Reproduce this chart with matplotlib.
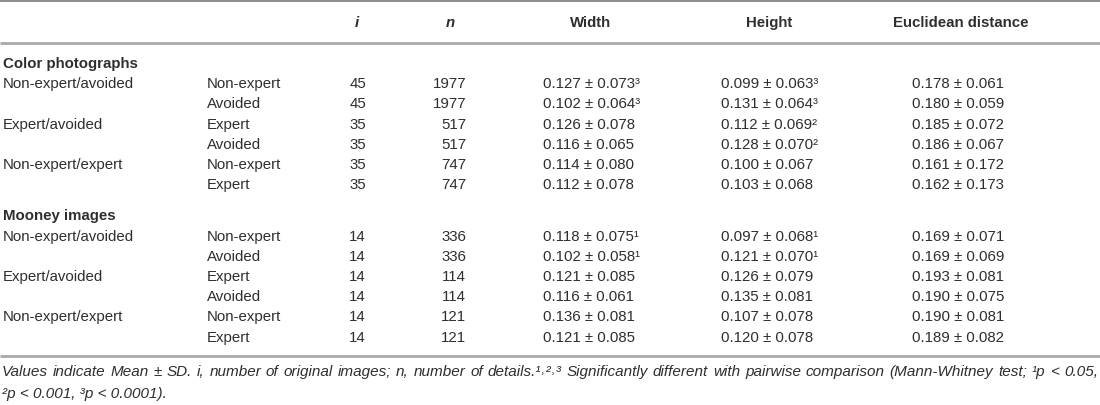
import matplotlib
matplotlib.use("Agg")
import matplotlib.pyplot as plt

# ---------------- data ----------------
col_headers = ["i", "n", "Width", "Height", "Euclidean distance"]
sections = ["Color photographs", "Mooney images"]
comparisons = ["Non-expert/avoided", "Expert/avoided", "Non-expert/expert"]
groups = [["Non-expert", "Avoided"], ["Expert", "Avoided"], ["Non-expert", "Expert"]]

i_vals = [[45, 45, 35, 35, 35, 35],
          [14, 14, 14, 14, 14, 14]]
n_vals = [[1977, 1977, 517, 517, 747, 747],
          [336, 336, 114, 114, 121, 121]]

width_mean = [[0.127, 0.102, 0.126, 0.116, 0.114, 0.112],
              [0.118, 0.102, 0.121, 0.116, 0.136, 0.121]]
width_sd = [[0.073, 0.064, 0.078, 0.065, 0.080, 0.078],
            [0.075, 0.058, 0.085, 0.061, 0.081, 0.085]]
width_sig = [["3", "3", "", "", "", ""],
             ["1", "1", "", "", "", ""]]

height_mean = [[0.099, 0.131, 0.112, 0.128, 0.100, 0.103],
               [0.097, 0.121, 0.126, 0.135, 0.107, 0.120]]
height_sd = [[0.063, 0.064, 0.069, 0.070, 0.067, 0.068],
             [0.068, 0.070, 0.079, 0.081, 0.078, 0.078]]
height_sig = [["3", "3", "2", "2", "", ""],
              ["1", "1", "", "", "", ""]]

eucl_mean = [[0.178, 0.180, 0.185, 0.186, 0.161, 0.162],
             [0.169, 0.169, 0.193, 0.190, 0.190, 0.189]]
eucl_sd = [[0.061, 0.059, 0.072, 0.067, 0.172, 0.173],
           [0.071, 0.069, 0.081, 0.075, 0.081, 0.082]]
eucl_sig = [["", "", "", "", "", ""],
            ["", "", "", "", "", ""]]

footnote_line1 = ("Values indicate Mean ± SD. i, number of original images; n, number of "
                  "details.¹˒²˒³ Significantly different with pairwise comparison "
                  "(Mann-Whitney test; ¹p < 0.05,")
footnote_line2 = "²p < 0.001, ³p < 0.0001)."

# ---------------- layout ----------------
W, H = 1100, 406
fig = plt.figure(figsize=(W / 100, H / 100), dpi=100)
ax = fig.add_axes([0, 0, 1, 1])
ax.set_xlim(0, W)
ax.set_ylim(H, 0)
ax.axis("off")

FONT = "Liberation Sans"
FS = 10.8
TC = "#2e2e2e"
SUP = {"1": "¹", "2": "²", "3": "³"}

def t(x, y, s, ha="left", weight="normal", style="normal", fs=FS):
    return ax.text(x, y, s, ha=ha, va="center", fontsize=fs, family=FONT,
                   color=TC, fontweight=weight, fontstyle=style)

# rules
ax.plot([0, W], [2, 2], color="#7a7a7a", lw=1.2, solid_capstyle="butt")
ax.plot([0, W], [43.5, 43.5], color="#a9a9a9", lw=2.0, solid_capstyle="butt")
ax.plot([0, W], [356.5, 356.5], color="#a9a9a9", lw=2.0, solid_capstyle="butt")

# header
hy = 23
t(357, hy, col_headers[0], ha="center", weight="bold", style="italic")
t(450, hy, col_headers[1], ha="center", weight="bold", style="italic")
t(591, hy, col_headers[2], ha="center", weight="bold")
t(769, hy, col_headers[3], ha="center", weight="bold")
t(961, hy, col_headers[4], ha="center", weight="bold")

x_c1, x_c2, x_i, x_n = 3, 207, 366, 466
x_w, x_h, x_e = 543, 721, 912

def fmt(m, s, g):
    return f"{m:.3f} ± {s:.3f}" + "".join(SUP[c] for c in g)

section_y = [64, 216.5]
row_h = 20.2
for si, sec in enumerate(sections):
    y0 = section_y[si]
    t(x_c1, y0, sec, weight="bold")
    r = 0
    for ci, comp in enumerate(comparisons):
        for gi, grp in enumerate(groups[ci]):
            y = y0 + row_h * (r + 1)
            if gi == 0:
                t(x_c1, y, comp)
            t(x_c2, y, grp)
            t(x_i, y, str(i_vals[si][r]), ha="right")
            t(x_n, y, str(n_vals[si][r]), ha="right")
            t(x_w, y, fmt(width_mean[si][r], width_sd[si][r], width_sig[si][r]))
            t(x_h, y, fmt(height_mean[si][r], height_sd[si][r], height_sig[si][r]))
            t(x_e, y, fmt(eucl_mean[si][r], eucl_sd[si][r], eucl_sig[si][r]))
            r += 1

# footnote (justified first line)
fig.canvas.draw()
renderer = fig.canvas.get_renderer()
FFS = 11.0
FN_FAMILY = [FONT, "DejaVu Sans"]

def word_width(wd):
    tx = ax.text(0, 0, wd, fontsize=FFS, family=FN_FAMILY, fontstyle="italic")
    bb = tx.get_window_extent(renderer=renderer)
    tx.remove()
    return bb.width

words = footnote_line1.split(" ")
widths = [word_width(wd) for wd in words]
left, right = 2, 1098
gap = (right - left - sum(widths)) / (len(words) - 1)
x = left
for wd, wdt in zip(words, widths):
    ax.text(x, 372, wd, ha="left", va="center", fontsize=FFS, family=FN_FAMILY,
            fontstyle="italic", color=TC)
    x += wdt + gap
ax.text(left, 394, footnote_line2, ha="left", va="center", fontsize=FFS,
        family=FN_FAMILY, fontstyle="italic", color=TC)

fig.savefig("out.png", dpi=100, facecolor="white")
